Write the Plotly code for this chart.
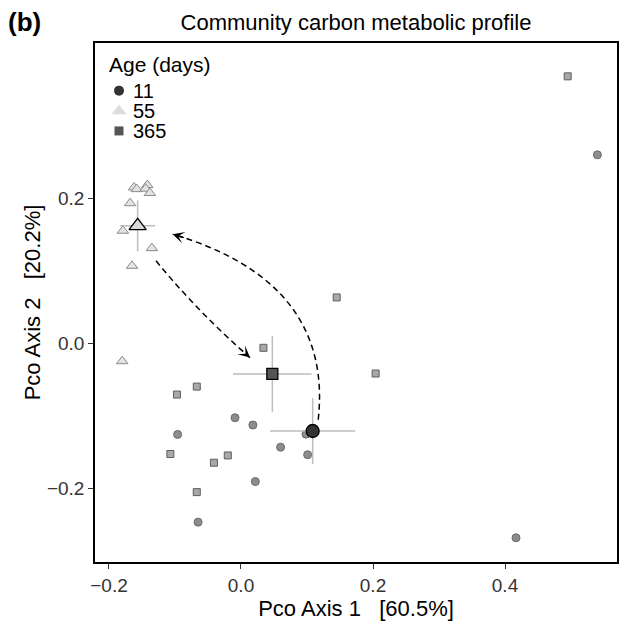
import plotly.graph_objects as go

# ---- data ----
age_labels = ["11", "55", "365"]

age11_x = [-0.009, 0.018, 0.0985, -0.096, 0.060, 0.101, 0.0217, -0.065, 0.540, 0.4167]
age11_y = [-0.102, -0.112, -0.1246, -0.125, -0.1426, -0.153, -0.190, -0.246, 0.2607, -0.2676]

age55_x = [-0.162, -0.158, -0.142, -0.1445, -0.138, -0.168, -0.179, -0.135, -0.165, -0.180]
age55_y = [0.2157, 0.2134, 0.219, 0.214, 0.208, 0.194, 0.156, 0.132, 0.1076, -0.024]

age365_x = [0.034, -0.067, -0.097, -0.107, -0.020, -0.041, -0.067, 0.145, 0.204, 0.495]
age365_y = [-0.0055, -0.059, -0.070, -0.152, -0.154, -0.164, -0.2046, 0.064, -0.041, 0.369]

mean_x = [0.1086, -0.1566, 0.0475]
mean_y = [-0.1203, 0.1628, -0.0415]
err_x = [0.0645, 0.0265, 0.0595]
err_y = [0.0453, 0.035, 0.0525]

# curved arrows: start, control, end (data units)
arrow_start = [(0.117, -0.1048), (-0.1288, 0.1145)]
arrow_ctrl = [(0.140, 0.0855), (-0.0644, 0.043)]
arrow_end = [(-0.1035, 0.1513), (0.0136, -0.0190)]

x_ticks = [-0.2, 0.0, 0.2, 0.4]
y_ticks = [-0.2, 0.0, 0.2]

# ---- styles ----
FONT = "Liberation Sans, Arial, Helvetica, sans-serif"
raw_style = [
    dict(symbol="circle", size=8, color="#8c8c8c", line=dict(color="#6a6a6a", width=1)),
    dict(symbol="triangle-up", size=10, color="#e3e3e3", line=dict(color="#8a8a8a", width=1)),
    dict(symbol="square", size=7, color="#a8a8a8", line=dict(color="#5e5e5e", width=1)),
]
mean_fill = ["#333333", "#d9d9d9", "#555555"]
mean_size = [13, 15, 11]
legend_style = [
    dict(symbol="circle", size=10, color="#333333"),
    dict(symbol="triangle-up", size=13, color="#dddddd"),
    dict(symbol="square", size=9, color="#555555"),
]

fig = go.Figure()

raw = [(age11_x, age11_y), (age55_x, age55_y), (age365_x, age365_y)]
for i, (xs, ys) in enumerate(raw):
    fig.add_trace(go.Scatter(x=xs, y=ys, mode="markers", marker=raw_style[i],
                             name=age_labels[i], showlegend=False, hoverinfo="skip"))

for i in range(3):
    fig.add_trace(go.Scatter(
        x=[mean_x[i]], y=[mean_y[i]], mode="markers",
        marker=dict(symbol=raw_style[i]["symbol"], size=mean_size[i],
                    color=mean_fill[i], line=dict(color="black", width=1.3)),
        error_x=dict(type="data", array=[err_x[i]], color="#bdbdbd", thickness=1.5, width=0),
        error_y=dict(type="data", array=[err_y[i]], color="#bdbdbd", thickness=1.5, width=0),
        showlegend=False, hoverinfo="skip"))

# ---- custom legend on an overlay axis measured in pixels of the plot panel ----
leg_sym_x = 119
leg_txt_x = 131
leg_title_y = 65
leg_item_y = [90.7, 111, 131]
for i in range(3):
    st = legend_style[i]
    fig.add_trace(go.Scatter(
        x=[leg_sym_x], y=[leg_item_y[i]], mode="markers", xaxis="x2", yaxis="y2",
        marker=dict(symbol=st["symbol"], size=st["size"], color=st["color"],
                    line=dict(width=0)),
        showlegend=False, hoverinfo="skip"))

annotations = []
annotations.append(dict(text="Age (days)", xref="x2", yref="y2", x=107, y=leg_title_y,
                        xanchor="left", yanchor="middle", showarrow=False,
                        font=dict(size=21, color="black")))
for i in range(3):
    annotations.append(dict(text=age_labels[i], xref="x2", yref="y2", x=leg_txt_x,
                            y=leg_item_y[i], xanchor="left", yanchor="middle",
                            showarrow=False, font=dict(size=20, color="black")))

# arrows
def bez(p0, c, p1, t):
    return ((1 - t) ** 2 * p0[0] + 2 * (1 - t) * t * c[0] + t ** 2 * p1[0],
            (1 - t) ** 2 * p0[1] + 2 * (1 - t) * t * c[1] + t ** 2 * p1[1])

shapes = []
for p0, c, p1 in zip(arrow_start, arrow_ctrl, arrow_end):
    shapes.append(dict(type="path", xref="x", yref="y",
                       path=f"M {p0[0]},{p0[1]} Q {c[0]},{c[1]} {p1[0]},{p1[1]}",
                       line=dict(color="black", width=1.5, dash="6px,4px")))
    tail = bez(p0, c, p1, 0.96)
    annotations.append(dict(x=p1[0], y=p1[1], ax=tail[0], ay=tail[1],
                            xref="x", yref="y", axref="x", ayref="y",
                            text="", showarrow=True, arrowhead=3, arrowsize=1.3,
                            arrowwidth=1.5, arrowcolor="black", standoff=0))

annotations.append(dict(text="<b>(b)</b>", xref="paper", yref="paper",
                        x=-0.171, y=1.04, xanchor="left", yanchor="middle",
                        showarrow=False, font=dict(size=26, color="black")))

fig.update_layout(
    width=622, height=621,
    margin=dict(l=95, r=5, t=43, b=58.5),
    paper_bgcolor="white", plot_bgcolor="white",
    font=dict(family=FONT, color="black"),
    title=dict(text="Community carbon metabolic profile", x=0.5, xref="paper",
               y=1 - 22 / 621, yref="container", yanchor="middle",
               font=dict(size=22, color="black")),
    xaxis=dict(range=[-0.2212, 0.5697], tickvals=x_ticks, tickformat=".1f",
               showgrid=False, zeroline=False, showline=True, mirror=True,
               linecolor="black", linewidth=1.5, ticks="outside", ticklen=5,
               tickcolor="#333333", tickfont=dict(size=19, color="#333333"),
               automargin=False,
               title=dict(text="Pco Axis 1   [60.5%]", font=dict(size=22), standoff=4)),
    yaxis=dict(range=[-0.301, 0.415], tickvals=y_ticks, tickformat=".1f",
               showgrid=False, zeroline=False, showline=True, mirror=True,
               linecolor="black", linewidth=1.5, ticks="outside", ticklen=5,
               tickcolor="#333333", tickfont=dict(size=19, color="#333333"),
               automargin=False,
               title=dict(text="Pco Axis 2   [20.2%]", font=dict(size=22), standoff=0)),
    xaxis2=dict(range=[95, 617], overlaying="x", visible=False, fixedrange=True),
    yaxis2=dict(range=[562.5, 43], overlaying="y", visible=False, fixedrange=True),
    showlegend=False,
    shapes=shapes, annotations=annotations,
)

fig.write_html("out.html")
